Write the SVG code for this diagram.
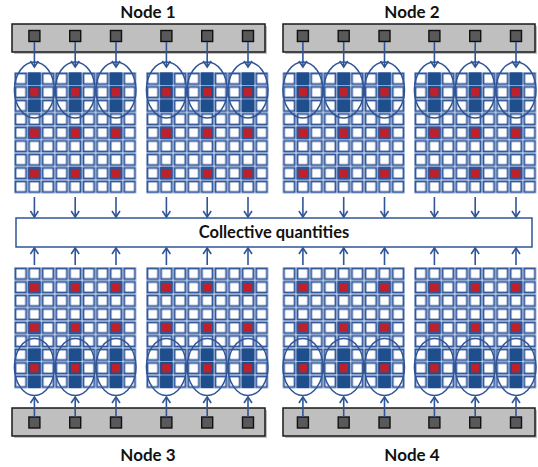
<svg xmlns="http://www.w3.org/2000/svg" width="538" height="467" viewBox="0 0 538 467">
<style>
.bar{fill:#BFBFBF;stroke:#1a1a1a;stroke-width:1.5}
.sh{fill:#8c8c8c;opacity:0.55}
.port{fill:#595959;stroke:#111;stroke-width:1.4}
.lbl{font-family:Lato,"Open Sans","Liberation Sans",sans-serif;font-weight:bold;font-size:17px;fill:#111;text-anchor:middle}
.cl{font-family:Lato,"Open Sans","Liberation Sans",sans-serif;font-weight:bold;font-size:16.5px;fill:#111;text-anchor:middle}
.ell{fill:none;stroke:#2F5597;stroke-width:1.5}
.dk{fill:#1F4E8C;stroke:#1F4E8C;stroke-width:2}
.rd{fill:#C0202A}
.rc{fill:#C0202A;stroke:#2F5597;stroke-width:2}
.con line{stroke:#2F5597;stroke-width:1.6;marker-end:url(#ah)}
.box{fill:#fff;stroke:#2F5597;stroke-width:1.5}
</style>
<defs>
<pattern id="cell" patternUnits="userSpaceOnUse" x="0" y="0" width="13.6" height="13.5">
<rect x="0.6" y="0.6" width="12.4" height="12.3" fill="#fff" stroke="#B4C7E7" stroke-width="1"/>
<rect x="1.5" y="1.5" width="10.6" height="10.5" fill="#fff" stroke="#2F5597" stroke-width="1.7"/>
</pattern>
<marker id="ah" markerUnits="userSpaceOnUse" markerWidth="12" markerHeight="12" refX="9" refY="5" orient="auto">
<path d="M3,1 L9,5 L3,9" fill="none" stroke="#2F5597" stroke-width="1.6"/>
</marker>
<g id="dcell"><rect class="dk" x="1.5" y="1.5" width="10.6" height="10.5"/></g>
<g id="rcell"><rect class="rc" x="1.5" y="1.5" width="10.6" height="10.5"/></g>
<g id="dred"><rect class="dk" x="1.5" y="1.5" width="10.6" height="10.5"/><rect class="rd" x="2.6" y="2.6" width="8.4" height="8.3"/></g>
<g id="topblock">
<rect x="0" y="0" width="122.4" height="121.5" fill="url(#cell)"/>
<use href="#dcell" x="13.6" y="0"/><use href="#dred" x="13.6" y="13.5"/><use href="#dcell" x="13.6" y="27"/>
<use href="#dcell" x="54.4" y="0"/><use href="#dred" x="54.4" y="13.5"/><use href="#dcell" x="54.4" y="27"/>
<use href="#dcell" x="95.2" y="0"/><use href="#dred" x="95.2" y="13.5"/><use href="#dcell" x="95.2" y="27"/>
<use href="#rcell" x="13.6" y="54"/><use href="#rcell" x="54.4" y="54"/><use href="#rcell" x="95.2" y="54"/>
<use href="#rcell" x="13.6" y="94.5"/><use href="#rcell" x="54.4" y="94.5"/><use href="#rcell" x="95.2" y="94.5"/>
<ellipse class="ell" cx="20.4" cy="18" rx="20" ry="28"/>
<ellipse class="ell" cx="61.2" cy="18" rx="20" ry="28"/>
<ellipse class="ell" cx="102" cy="18" rx="20" ry="28"/>
</g>
<g id="botblock">
<rect x="0" y="0" width="122.4" height="121.5" fill="url(#cell)"/>
<use href="#rcell" x="13.6" y="13.5"/><use href="#rcell" x="54.4" y="13.5"/><use href="#rcell" x="95.2" y="13.5"/>
<use href="#rcell" x="13.6" y="54"/><use href="#rcell" x="54.4" y="54"/><use href="#rcell" x="95.2" y="54"/>
<use href="#dcell" x="13.6" y="81"/><use href="#dred" x="13.6" y="94.5"/><use href="#dcell" x="13.6" y="108"/>
<use href="#dcell" x="54.4" y="81"/><use href="#dred" x="54.4" y="94.5"/><use href="#dcell" x="54.4" y="108"/>
<use href="#dcell" x="95.2" y="81"/><use href="#dred" x="95.2" y="94.5"/><use href="#dcell" x="95.2" y="108"/>
<ellipse class="ell" cx="20.4" cy="100" rx="20" ry="28.5"/>
<ellipse class="ell" cx="61.2" cy="100" rx="20" ry="28.5"/>
<ellipse class="ell" cx="102" cy="100" rx="20" ry="28.5"/>
</g>
</defs>

<g id="node1">
<text class="lbl" x="148" y="18">Node 1</text>
<rect class="sh" x="14" y="26" width="253" height="28"/>
<rect class="bar" x="12" y="24" width="253" height="28"/>
<rect class="port" x="28.9" y="30.5" width="11" height="11"/><rect class="port" x="69.7" y="30.5" width="11" height="11"/><rect class="port" x="110.5" y="30.5" width="11" height="11"/>
<rect class="port" x="160.9" y="30.5" width="11" height="11"/><rect class="port" x="201.7" y="30.5" width="11" height="11"/><rect class="port" x="242.5" y="30.5" width="11" height="11"/>
<use href="#topblock" x="14" y="72"/>
<use href="#topblock" x="146" y="72"/>
</g>

<g id="node2">
<text class="lbl" x="412" y="18">Node 2</text>
<rect class="sh" x="285" y="26" width="252" height="28"/>
<rect class="bar" x="283" y="24" width="252" height="28"/>
<rect class="port" x="297.4" y="30.5" width="11" height="11"/><rect class="port" x="338.2" y="30.5" width="11" height="11"/><rect class="port" x="379" y="30.5" width="11" height="11"/>
<rect class="port" x="428.9" y="30.5" width="11" height="11"/><rect class="port" x="469.7" y="30.5" width="11" height="11"/><rect class="port" x="510.5" y="30.5" width="11" height="11"/>
<use href="#topblock" x="282.5" y="72"/>
<use href="#topblock" x="414" y="72"/>
</g>

<g id="collective">
<rect class="box" x="16" y="218" width="516" height="29"/>
<text class="cl" x="274" y="238">Collective quantities</text>
</g>

<g id="node3">
<use href="#botblock" x="14" y="267"/>
<use href="#botblock" x="146" y="267"/>
<rect class="sh" x="14" y="410" width="253" height="28"/>
<rect class="bar" x="12" y="408" width="253" height="28"/>
<rect class="port" x="28.9" y="417" width="11" height="11"/><rect class="port" x="69.7" y="417" width="11" height="11"/><rect class="port" x="110.5" y="417" width="11" height="11"/>
<rect class="port" x="160.9" y="417" width="11" height="11"/><rect class="port" x="201.7" y="417" width="11" height="11"/><rect class="port" x="242.5" y="417" width="11" height="11"/>
<text class="lbl" x="148" y="461">Node 3</text>
</g>

<g id="node4">
<use href="#botblock" x="282.5" y="267"/>
<use href="#botblock" x="414" y="267"/>
<rect class="sh" x="285" y="410" width="252" height="28"/>
<rect class="bar" x="283" y="408" width="252" height="28"/>
<rect class="port" x="297.4" y="417" width="11" height="11"/><rect class="port" x="338.2" y="417" width="11" height="11"/><rect class="port" x="379" y="417" width="11" height="11"/>
<rect class="port" x="428.9" y="417" width="11" height="11"/><rect class="port" x="469.7" y="417" width="11" height="11"/><rect class="port" x="510.5" y="417" width="11" height="11"/>
<text class="lbl" x="412" y="461">Node 4</text>
</g>

<g id="connectors" class="con">
<line x1="34.4" y1="42" x2="34.4" y2="67"/><line x1="75.2" y1="42" x2="75.2" y2="67"/><line x1="116" y1="42" x2="116" y2="67"/>
<line x1="166.4" y1="42" x2="166.4" y2="67"/><line x1="207.2" y1="42" x2="207.2" y2="67"/><line x1="248" y1="42" x2="248" y2="67"/>
<line x1="302.9" y1="42" x2="302.9" y2="67"/><line x1="343.7" y1="42" x2="343.7" y2="67"/><line x1="384.5" y1="42" x2="384.5" y2="67"/>
<line x1="434.4" y1="42" x2="434.4" y2="67"/><line x1="475.2" y1="42" x2="475.2" y2="67"/><line x1="516" y1="42" x2="516" y2="67"/>

<line x1="34.4" y1="197" x2="34.4" y2="217"/><line x1="75.2" y1="197" x2="75.2" y2="217"/><line x1="116" y1="197" x2="116" y2="217"/>
<line x1="166.4" y1="197" x2="166.4" y2="217"/><line x1="207.2" y1="197" x2="207.2" y2="217"/><line x1="248" y1="197" x2="248" y2="217"/>
<line x1="302.9" y1="197" x2="302.9" y2="217"/><line x1="343.7" y1="197" x2="343.7" y2="217"/><line x1="384.5" y1="197" x2="384.5" y2="217"/>
<line x1="434.4" y1="197" x2="434.4" y2="217"/><line x1="475.2" y1="197" x2="475.2" y2="217"/><line x1="516" y1="197" x2="516" y2="217"/>

<line x1="34.4" y1="265" x2="34.4" y2="248"/><line x1="75.2" y1="265" x2="75.2" y2="248"/><line x1="116" y1="265" x2="116" y2="248"/>
<line x1="166.4" y1="265" x2="166.4" y2="248"/><line x1="207.2" y1="265" x2="207.2" y2="248"/><line x1="248" y1="265" x2="248" y2="248"/>
<line x1="302.9" y1="265" x2="302.9" y2="248"/><line x1="343.7" y1="265" x2="343.7" y2="248"/><line x1="384.5" y1="265" x2="384.5" y2="248"/>
<line x1="434.4" y1="265" x2="434.4" y2="248"/><line x1="475.2" y1="265" x2="475.2" y2="248"/><line x1="516" y1="265" x2="516" y2="248"/>

<line x1="34.4" y1="417" x2="34.4" y2="397"/><line x1="75.2" y1="417" x2="75.2" y2="397"/><line x1="116" y1="417" x2="116" y2="397"/>
<line x1="166.4" y1="417" x2="166.4" y2="397"/><line x1="207.2" y1="417" x2="207.2" y2="397"/><line x1="248" y1="417" x2="248" y2="397"/>
<line x1="302.9" y1="417" x2="302.9" y2="397"/><line x1="343.7" y1="417" x2="343.7" y2="397"/><line x1="384.5" y1="417" x2="384.5" y2="397"/>
<line x1="434.4" y1="417" x2="434.4" y2="397"/><line x1="475.2" y1="417" x2="475.2" y2="397"/><line x1="516" y1="417" x2="516" y2="397"/>
</g>
</svg>
